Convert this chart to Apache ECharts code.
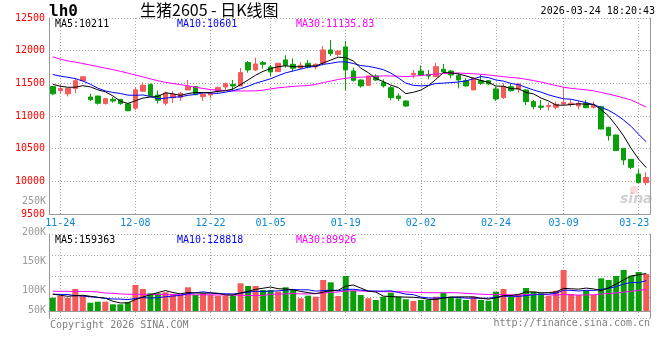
<!DOCTYPE html>
<html><head><meta charset="utf-8">
<script src="https://cdn.jsdelivr.net/npm/echarts@6/dist/echarts.min.js"></script>
<style>html,body{margin:0;padding:0;background:#fff}#c{width:660px;height:360px}</style>
</head><body><div id="c"></div>
<script>
const dates = ['11-21','11-24','11-25','11-26','11-27','11-28',
'12-01','12-02','12-03','12-04','12-05','12-08','12-09','12-10','12-11','12-12','12-15','12-16','12-17','12-18','12-19','12-22','12-23','12-24','12-25','12-26','12-29','12-30','12-31',
'01-05','01-06','01-07','01-08','01-09','01-12','01-13','01-14','01-15','01-16','01-19','01-20','01-21','01-22','01-23','01-26','01-27','01-28','01-29','01-30',
'02-02','02-03','02-04','02-05','02-06','02-09','02-10','02-11','02-12','02-13','02-24','02-25','02-26','02-27',
'03-02','03-03','03-04','03-05','03-06','03-09','03-10','03-11','03-12','03-13','03-16','03-17','03-18','03-19','03-20','03-23','03-24'];
const tickLabels = ['11-24','12-08','12-22','01-05','01-19','02-02','02-24','03-09','03-23'];
const opens = [11450,11390,11340,11420,11540,11290,11305,11190,11255,11255,
11185,11120,11380,11480,11320,11195,11280,11286,11398,11449,
11296,11322,11383,11444,11485,11460,11817,11705,11817,11750,
11679,11858,11791,11735,11806,11750,11807,12011,11944,12057,
11689,11551,11470,11613,11511,11434,11306,11230,11633,11689,
11633,11602,11715,11689,11618,11541,11398,11541,11541,11414,
11281,11449,11414,11398,11220,11153,11143,11133,11184,11174,
11153,11194,11133,11143,10827,10709,10505,10337,10112,9980];
const closes = [11340,11420,11420,11540,11600,11250,11195,11265,11230,11190,
11080,11400,11470,11310,11240,11350,11330,11347,11449,11327,
11332,11347,11434,11495,11460,11664,11705,11796,11791,11674,
11807,11776,11730,11776,11750,11791,12011,11955,11995,11705,
11546,11460,11613,11551,11460,11281,11266,11153,11653,11628,
11613,11755,11674,11628,11551,11460,11577,11500,11490,11261,
11449,11388,11490,11220,11143,11133,11160,11179,11209,11194,
11194,11128,11169,10801,10699,10470,10327,10214,9980,10061];
const lows = [11320,11350,11300,11350,11540,11225,11175,11175,11205,11170,
11075,11090,11375,11305,11190,11160,11200,11230,11398,11317,
11230,11266,11340,11398,11398,11455,11664,11689,11725,11602,
11675,11740,11679,11715,11730,11715,11776,11919,11909,11398,
11526,11434,11470,11536,11434,11240,11230,11140,11577,11612,
11562,11600,11653,11577,11424,11449,11398,11475,11475,11230,
11261,11373,11357,11169,11102,11092,11082,11102,11169,11143,
11102,11117,11117,10800,10623,10465,10250,10189,9975,9944];
const highs = [11460,11490,11420,11570,11610,11340,11310,11270,11290,11260,
11190,11440,11515,11500,11390,11370,11380,11368,11551,11460,
11368,11368,11449,11511,11551,11735,11842,11893,11842,11781,
11810,11929,11883,11827,11858,11806,12072,12164,12011,12148,
11740,11562,11613,11638,11562,11460,11347,11235,11704,11771,
11704,11817,11796,11704,11653,11577,11592,11628,11551,11449,
11500,11490,11500,11408,11245,11245,11204,11220,11449,11245,
11230,11245,11220,11150,10837,10715,10510,10340,10184,10138];
const volumes = [59200,66800,59200,97900,66800,36900,41400,41400,29800,29800,
38700,115700,97900,78800,78800,83200,71200,71200,105500,71200,
78800,71200,68100,68100,68100,123300,111300,111300,93500,93500,
85900,105500,93500,56500,68100,63600,138000,127700,66800,155800,
90300,71200,56500,49000,63600,81400,63600,52100,44500,49000,
49000,63600,81400,63600,56500,49000,63600,49000,45800,85900,
97900,63600,74300,102400,85900,78800,66800,90300,182500,75700,
71200,90300,71200,145500,138000,155800,182500,157100,173600,164700];
// moving-average values before enough bars exist
const ma5Head = [11485,11455,11440,11440];
const ma10Head = [11635,11610,11593,11572,11535,11487,11426,11384,11360];
const ma30Head = [11905,11870,11843,11825,11803,11780,11756,11733,11710,11684,11656,11628,11598,11568,11540,11515,11498,11480,11462,11440,11421,11405,11394,11389,11384,11383,11383,11386,11395];
const volMa5Head = [75600,69900,65400,68100];
const volMa10Head = [74300,73800,73400,68100,66800,63600,61000,56500,53400];
const volMa30Head = [87700,87700,87500,87300,87000,86800,84500,80000,78800,76000,74300,74300,74300,74100,74000,73800,73600,72500,72200,72000,72000,71800,71600,71400,71200,69500,69200,69000,69000];
const priceLegend = ['MA5:10211','MA10:10601','MA30:11135.83'];
const volLegend = ['MA5:159363','MA10:128818','MA30:89926'];
const volTickLabels = ['250K','200K','150K','100K','50K'];
const titleText = '生猪2605 - 日K线图';
const symbolText = 'lh0';
const stampText = '2026-03-24 18:20:43';

function ma(arr, n, head){
  return arr.map((v,i)=>{
    if(i < n-1) return head[i];
    let s=0; for(let j=i-n+1;j<=i;j++) s+=arr[j];
    return +(s/n).toFixed(1);
  });
}
const UP='#f55a5a', DOWN='#0a9f0a';
const MONO='"DejaVu Sans Mono", "Liberation Mono", monospace';
const labelIdx = tickLabels.map(t=>dates.indexOf(t));
const kData = opens.map((o,i)=>[o,closes[i],lows[i],highs[i]]);
const volData = volumes.map((v,i)=>({value:v,itemStyle:{color: closes[i]>=opens[i]?UP:DOWN}}));
const dotted = {color:'#a8a8a8', width:1, type:[1,2]};
const VPX = 4450; // volume per pixel
const volMax = VPX*77, volMin = -VPX*7;

const chart = echarts.init(document.getElementById('c'), null, {renderer:'canvas'});
const legendColors = ['#000000','#0000ff','#ff00ff'];
const legendX = [55,177,296];
const graphics = [];
graphics.push({type:'text', left:49, top:4, style:{text:symbolText, font:'bold 16px '+MONO, fill:'#000'}});
graphics.push({type:'text', left:140, top:2, style:{text:titleText, font:'16px "Noto Sans CJK SC", sans-serif', fill:'#000'}});
graphics.push({type:'text', right:5, top:6, style:{text:stampText, font:'10px '+MONO, fill:'#000'}});
priceLegend.forEach((t,i)=>graphics.push({type:'text', left:legendX[i], top:19, style:{text:t, font:'10px '+MONO, fill:legendColors[i]}}));
volLegend.forEach((t,i)=>graphics.push({type:'text', left:legendX[i], top:235, style:{text:t, font:'10px '+MONO, fill:legendColors[i]}}));
const volTickY = [196,227,256,285,305];
volTickLabels.forEach((t,i)=>graphics.push({type:'text', right:614, top:volTickY[i], style:{text:t, font:'10px '+MONO, fill:'#9a9a9a', align:'right'}}));
graphics.push({type:'text', left:50, top:320, style:{text:'Copyright 2026 SINA.COM', font:'10px '+MONO, fill:'#808080'}});
graphics.push({type:'text', right:10, top:318, style:{text:'http://finance.sina.com.cn', font:'10px '+MONO, fill:'#808080'}});
graphics.push({type:'text', left:620, top:192, style:{text:'sina', font:'italic bold 14px "DejaVu Sans", sans-serif', fill:'rgba(150,150,150,0.45)'}});
graphics.push({type:'circle', shape:{cx:634, cy:190, r:4}, style:{fill:'rgba(240,150,150,0.35)'}});

chart.setOption({
  animation:false,
  backgroundColor:'#fff',
  graphic: graphics,
  grid:[{left:49, width:601, top:18, height:196},{left:49, width:601, top:234, height:84}],
  xAxis:[
    {type:'category', gridIndex:0, data:dates, boundaryGap:true,
     axisLine:{lineStyle:{color:'#999'}}, axisTick:{show:false},
     axisLabel:{interval:(i)=>labelIdx.includes(i), color:'#0b87d6', fontFamily:MONO, fontSize:10, margin:4,
       formatter:(v)=> v==='03-23' ? '{r|'+v+'}' : v,
       rich:{r:{color:'#0b87d6', fontFamily:MONO, fontSize:10, padding:[0,9,0,0]}}},
     splitLine:{show:true, interval:(i)=>labelIdx.includes(i), alignWithLabel:true, lineStyle:dotted}},
    {type:'category', gridIndex:1, data:dates, boundaryGap:true,
     axisLine:{lineStyle:{color:'#999'}}, axisTick:{show:false}, axisLabel:{show:false},
     splitLine:{show:true, interval:(i)=>labelIdx.includes(i), alignWithLabel:true, lineStyle:dotted}}
  ],
  yAxis:[
    {type:'value', gridIndex:0, min:9500, max:12500, interval:500,
     axisLine:{show:true, lineStyle:{color:'#999'}}, axisTick:{show:false},
     axisLabel:{color:'#ff0000', fontFamily:MONO, fontSize:10, margin:4, formatter:(v)=>String(v)},
     splitLine:{show:true, lineStyle:dotted}},
    {type:'value', gridIndex:0, position:'right', min:9500, max:12500,
     axisLine:{show:true, lineStyle:{color:'#999'}}, axisTick:{show:false}, axisLabel:{show:false}, splitLine:{show:false}},
    {type:'value', gridIndex:1, min:volMin, max:volMax,
     axisLine:{show:true, lineStyle:{color:'#999'}}, axisTick:{show:false}, axisLabel:{show:false}, splitLine:{show:false}},
    {type:'value', gridIndex:1, position:'right', min:0, max:4, interval:1,
     axisLine:{show:true, lineStyle:{color:'#999'}}, axisTick:{show:false}, axisLabel:{show:false},
     splitLine:{show:true, lineStyle:dotted}}
  ],
  series:[
    {type:'candlestick', xAxisIndex:0, yAxisIndex:0, data:kData, barWidth:5,
     itemStyle:{color:UP, color0:DOWN, borderColor:UP, borderColor0:DOWN, borderWidth:1}},
    {type:'line', xAxisIndex:0, yAxisIndex:0, data:ma(closes,30,ma30Head), symbol:'none', lineStyle:{color:'#ff00ff', width:1}, z:5},
    {type:'line', xAxisIndex:0, yAxisIndex:0, data:ma(closes,10,ma10Head), symbol:'none', lineStyle:{color:'#0000ff', width:1}, z:5},
    {type:'line', xAxisIndex:0, yAxisIndex:0, data:ma(closes,5,ma5Head), symbol:'none', lineStyle:{color:'#000000', width:1}, z:5},
    {type:'bar', xAxisIndex:1, yAxisIndex:2, data:volData, barWidth:6},
    {type:'line', xAxisIndex:1, yAxisIndex:2, data:ma(volumes,30,volMa30Head), symbol:'none', lineStyle:{color:'#ff00ff', width:1}, z:5},
    {type:'line', xAxisIndex:1, yAxisIndex:2, data:ma(volumes,10,volMa10Head), symbol:'none', lineStyle:{color:'#0000ff', width:1}, z:5},
    {type:'line', xAxisIndex:1, yAxisIndex:2, data:ma(volumes,5,volMa5Head), symbol:'none', lineStyle:{color:'#000000', width:1}, z:5}
  ]
});
</script></body></html>
